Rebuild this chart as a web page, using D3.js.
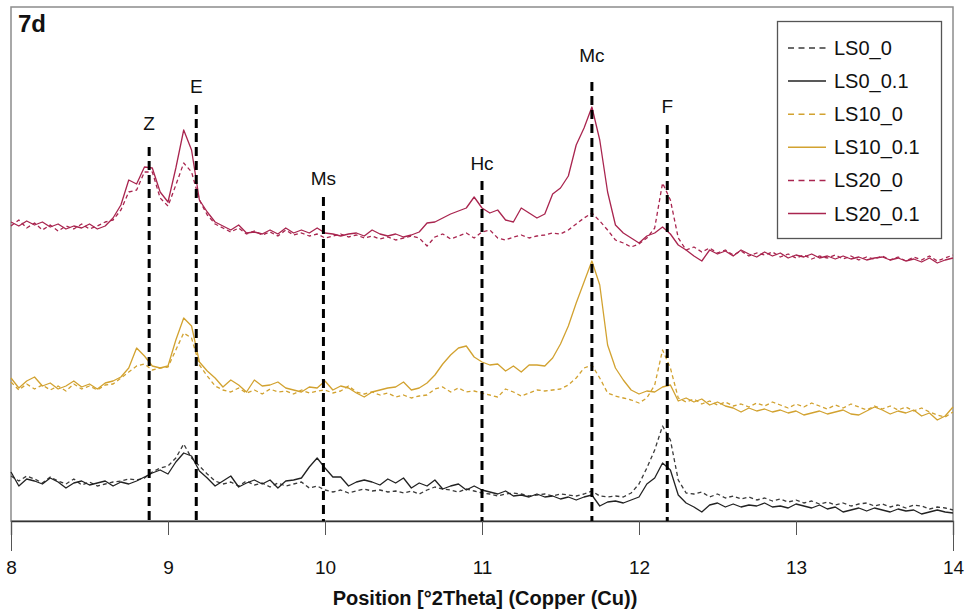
<!DOCTYPE html>
<html><head><meta charset="utf-8">
<script src="https://cdn.jsdelivr.net/npm/d3@7"></script>
<style>body{margin:0;background:#fff} svg text{font-family:"Liberation Sans",Arial,sans-serif}</style>
</head><body><svg id="c" width="969" height="612"></svg>
<script>
// 2Theta grid: 8.00 .. 14.00, step 0.05
const thetaStart = 8, thetaStep = 0.05, thetaCount = 121;

const ls0_0 = [45,40,45,42,38,44,40,37,42,36, 39,35,37,39,40,42,41,43,49,53, 55,63,77,63,55,47,40,37,39,35, 40,36,38,34,38,35,37,39,33,35, 31,
  29,31,28,30,32,30,31,29,30,28, 30,27,31,34,32,31,29,32,30,28, 27,25,27,28,27,25,26,27,25,27, 26,25,27,30,25,24,25,24,28,37, 53,
  71,95,81,41,28,27,29,24,27,23, 25,22,24,21,23,20,22,19,21,18, 20,17,19,16,18,15,17,18,15,17, 14,16,13,16,15,12,14,13,11];
const ls0_01 = [49,35,42,40,37,43,39,33,38,40, 36,38,40,35,39,37,40,44,48,51, 47,59,68,65,50,43,35,40,45,34, 38,41,37,41,33,40,41,43,54,63, 53,
  44,44,35,39,41,39,36,42,38,43, 33,38,35,41,32,35,37,31,35,31, 29,27,30,25,26,24,27,24,25,22, 24,21,24,26,15,19,20,18,21,24, 37,
  43,58,51,26,18,14,9,16,18,14, 17,14,16,15,18,14,15,13,17,15, 13,16,12,14,9,11,13,10,13,11, 9,12,10,11,7,9,11,9,8];
const ls10_0 = [139,131,137,132,136,131,135,130,137,132, 135,131,136,137,143,149,155,157,151,153, 154,171,188,183,156,145,135,131,129,133, 128,131,127,132,129,130,127,131,128,130, 131,
  128,130,135,129,127,129,126,128,124,126, 123,125,126,132,134,129,133,129,130,128, 126,124,132,129,125,128,131,130,131,132, 136,143,153,156,143,128,125,123,121,118, 123,
  136,171,153,123,119,122,117,120,116,119, 115,117,114,118,115,119,116,113,117,114, 118,115,112,116,113,117,114,111,115,112, 115,111,114,110,113,109,106,104,109];
const ls10_01 = [143,133,140,144,135,138,132,135,140,134, 137,132,138,140,144,153,173,165,155,153, 155,181,203,195,159,150,143,134,141,136, 129,141,135,136,139,133,131,129,134,133, 140,
  131,135,133,128,124,129,131,133,134,139, 131,133,138,146,157,166,173,175,164,159, 156,157,150,155,149,156,156,155,163,177, 195,218,239,260,236,176,153,141,131,127, 130,
  129,134,136,120,123,119,122,116,119,115, 113,109,113,110,112,109,111,108,110,106, 108,110,107,109,111,107,106,110,114,111, 107,110,108,111,105,108,101,105,114];
const ls20_0 = [295,301,293,298,291,296,290,295,292,297, 292,295,299,301,311,329,331,349,349,323, 315,336,358,349,321,306,297,293,289,293, 287,290,286,289,285,291,286,288,285,287, 283,
  285,287,284,286,283,285,282,284,281,283, 285,283,275,284,287,282,285,288,283,289, 291,283,281,284,286,283,285,286,288,287, 291,297,303,308,300,291,281,278,274,277, 283,
  293,338,321,283,271,274,269,273,268,271, 266,270,265,268,266,269,264,267,263,266, 262,265,263,266,262,265,261,264,262,265, 261,264,260,264,261,265,260,263,266];
const ls20_01 = [299,295,300,296,299,294,297,292,295,293, 297,292,295,303,316,341,337,354,353,329, 319,353,391,371,321,309,299,295,291,296, 288,289,287,291,287,293,288,291,288,293, 288,
  287,285,287,288,285,291,287,285,287,284, 286,289,298,299,303,307,310,313,324,313, 308,311,301,299,313,308,303,307,327,333, 345,376,393,414,381,329,296,288,283,278, 285,
  288,294,287,276,271,265,260,271,267,270, 265,271,267,264,269,265,268,263,266,264, 267,263,265,262,265,262,264,261,263,264, 261,263,260,262,259,263,258,261,263];

const seriesNames = ["LS0_0","LS0_0.1","LS10_0","LS10_0.1","LS20_0","LS20_0.1"];
const seriesValues = [ls0_0, ls0_01, ls10_0, ls10_01, ls20_0, ls20_01];
const seriesColors = ["#3a3a3a","#222222","#d2a230","#d2a230","#a9254f","#a9254f"];
const seriesDashed = [true,false,true,false,true,false];

const refNames = ["Z","E","Ms","Hc","Mc","F"];
const refPos   = [8.88, 9.18, 9.99, 11.0, 11.70, 12.18];
const refTop   = [374, 416, 324, 340, 439, 396];
const refLabel = [391, 428, 336, 351, 459, 408];

const xTicks = [8,9,10,11,12,13,14];
const xTitle = "Position [°2Theta] (Copper (Cu))";
const panelLabel = "7d";

const svg = d3.select("#c");
const x = d3.scaleLinear().domain([8,14]).range([11,953]);
const y = d3.scaleLinear().domain([0,514]).range([521,7]);
const thetas = d3.range(thetaCount).map(i => thetaStart + i*thetaStep);

// frame
svg.append("rect").attr("x",x(8)).attr("y",y(514)).attr("width",x(14)-x(8)).attr("height",y(0)-y(514))
  .attr("fill","none").attr("stroke","#8c8c8c").attr("stroke-width",1.5);

// axis
const axis = d3.axisBottom(x).tickValues(xTicks).tickSize(14).tickFormat(d3.format("d"));
const gx = svg.append("g").attr("transform",`translate(0,${y(0)})`).call(axis);
gx.select(".domain").attr("stroke","#333").attr("stroke-width",1.3);
gx.selectAll(".tick line").attr("stroke","#555").attr("y2",d => (d===8||d===14)?30:14);
gx.selectAll(".tick text").attr("y",53).attr("dy",0).attr("font-size",19).attr("fill","#111")
  .style("font-family",'"Liberation Sans",Arial,sans-serif');

svg.append("text").attr("x",(x(8)+x(14))/2+3).attr("y",605).attr("text-anchor","middle")
  .attr("font-size",20).attr("font-weight","bold").attr("fill","#111").text(xTitle);

// series
const line = d3.line().x((d,i)=>x(thetas[i])).y(d=>y(d));
seriesValues.forEach((vals,k)=>{
  svg.append("path").datum(vals).attr("d",line).attr("fill","none")
    .attr("stroke",seriesColors[k]).attr("stroke-width",1.3)
    .attr("stroke-dasharray",seriesDashed[k]?"4,3":null)
    .attr("stroke-linejoin","round");
});

// reference lines
refNames.forEach((n,i)=>{
  svg.append("line").attr("x1",x(refPos[i])).attr("x2",x(refPos[i]))
    .attr("y1",y(refTop[i])).attr("y2",y(0)).attr("stroke","#000").attr("stroke-width",3)
    .attr("stroke-dasharray","9,5");
  svg.append("text").attr("x",x(refPos[i])).attr("y",y(refLabel[i])).attr("text-anchor","middle")
    .attr("font-size",19).attr("fill","#111").text(n);
});

// panel label
svg.append("text").attr("x",18).attr("y",32).attr("font-size",24).attr("font-weight","bold").attr("fill","#111").text(panelLabel);

// legend
const lg = svg.append("g");
lg.append("rect").attr("x",777.5).attr("y",21.5).attr("width",164).attr("height",217)
  .attr("fill","#fff").attr("stroke","#555").attr("stroke-width",1.3);
seriesNames.forEach((n,k)=>{
  const cy = 48 + k*33.1;
  lg.append("line").attr("x1",788).attr("x2",826).attr("y1",cy).attr("y2",cy)
    .attr("stroke",seriesColors[k]).attr("stroke-width",1.5)
    .attr("stroke-dasharray",seriesDashed[k]?"6,4.5":null);
  lg.append("text").attr("x",834).attr("y",cy+7).attr("font-size",20).attr("fill","#111").text(n);
});
</script></body></html>
